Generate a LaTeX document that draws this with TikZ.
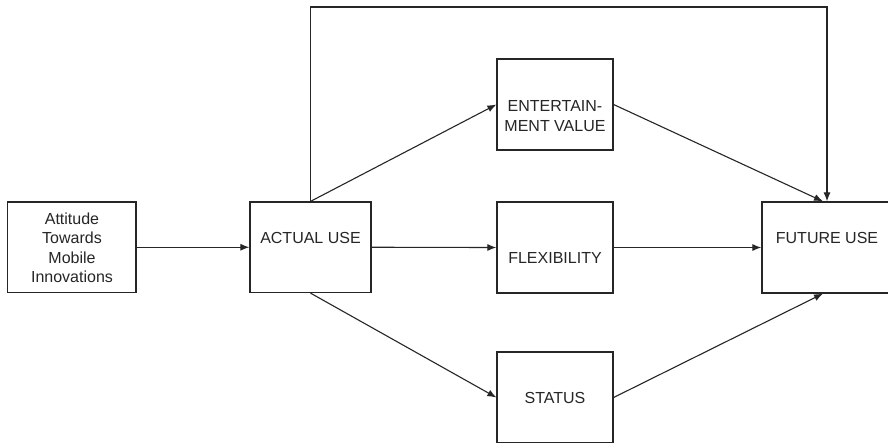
\documentclass[tikz,border=0pt]{standalone}
\usepackage{fontspec}
\setmainfont{Liberation Sans}
\usetikzlibrary{arrows.meta,calc}
\definecolor{ink}{gray}{0.15}
\begin{document}
\begin{tikzpicture}[x=1pt,y=-1pt,
  box/.style={draw=ink,line width=1.2pt,inner sep=0pt},
  lbl/.style={text=ink,font=\fontsize{16}{19.5}\selectfont,align=center,inner sep=0pt},
  arr/.style={draw=ink,line width=1.1pt,-{Latex[length=9pt,width=7pt]}},
  ln/.style={draw=ink,line width=1.1pt}]
\useasboundingbox (0,0) rectangle (888,442);
\clip (0,0) rectangle (888,442);
\fill[white] (0,0) rectangle (888,442);
% boxes
\node[box,minimum width=128.5pt,minimum height=90.5pt] (att) at (71.75,247.25) {};
\node[box,minimum width=121pt,minimum height=90.5pt] (au) at (310.5,247.25) {};
\node[box,minimum width=116pt,minimum height=91pt] (ent) at (555,104.5) {};
\node[box,minimum width=116pt,minimum height=91pt] (flex) at (555,247.5) {};
\node[box,minimum width=116pt,minimum height=91pt] (stat) at (555,397.5) {};
\node[box,minimum width=130pt,minimum height=91pt] (fu) at (827,247.5) {};
% labels
\node[lbl] (attT) at (72,248) {Attitude\\Towards\\Mobile\\Innovations};
\node[lbl] (auT) at (310.5,238) {ACTUAL USE};
\node[lbl] (entT) at (555,116) {ENTERTAIN-\\MENT VALUE};
\node[lbl] (flexT) at (555,258) {FLEXIBILITY};
\node[lbl] (statT) at (555,398) {STATUS};
\node[lbl] (fuT) at (827,238) {FUTURE USE};
% connectors
\coordinate (top) at (0,7);
\draw[arr] (att.east) -- (au.west);
\draw[arr] (au.north) -- (ent.west);
\draw[arr] (au.east) -- (flex.west);
\draw[arr] (au.south) -- (stat.west);
\draw[arr] (au.north) -- (au.north |- top) -- (fu.north |- top) -- (fu.north);
\draw[arr] (ent.east) -- ($(fu.north)+(-4,0)$);
\draw[arr] (flex.east) -- (fu.west);
\draw[arr] (stat.east) -- ($(fu.south)+(-4,0)$);
\end{tikzpicture}
\end{document}
